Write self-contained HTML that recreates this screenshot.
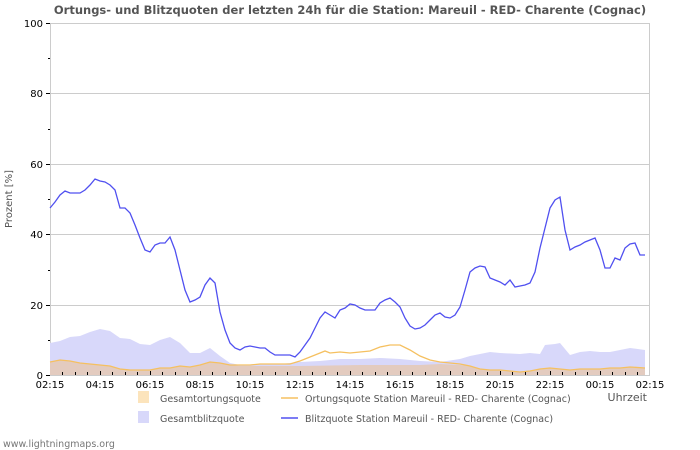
<!DOCTYPE html><html><head><style>body{margin:0;background:#fff}svg{display:block;font-family:"DejaVu Sans","Liberation Sans",sans-serif}</style></head><body>
<svg width="700" height="450" viewBox="0 0 700 450">
<text x="350" y="14" text-anchor="middle" font-size="11.5" font-weight="bold" fill="#555">Ortungs- und Blitzquoten der letzten 24h für die Station: Mareuil - RED- Charente (Cognac)</text>
<g stroke="#ccc" stroke-width="1">
<line x1="50" y1="23.5" x2="650" y2="23.5"/><line x1="50" y1="93.5" x2="650" y2="93.5"/><line x1="50" y1="164.5" x2="650" y2="164.5"/><line x1="50" y1="234.5" x2="650" y2="234.5"/><line x1="50" y1="305.5" x2="650" y2="305.5"/>
<line x1="50.5" y1="23" x2="50.5" y2="375"/><line x1="649.5" y1="23" x2="649.5" y2="375"/><line x1="50" y1="375.5" x2="650" y2="375.5"/>
</g>
<polygon fill="#d8d8fa" points="50,343 60,341 70,337 80,336 90,332 100,329 110,331 120,338 130,339 140,344 150,345 160,340 170,337 180,343 190,353 200,353 210,348 220,356 230,363 240,365 260,364 280,364 300,362 320,361 340,359 360,359 380,358 400,359 420,361 440,362 460,359 470,356 490,352 500,353 520,354 530,353 540,354 545,345 555,344 560,343 570,355 580,352 590,351 600,352 610,352 620,350 630,348 645,350 645,375 50,375"/>
<polygon fill="#e6c8b0" opacity="0.8" points="50,362 60,360 70,361 80,363 90,364 100,365 110,366 120,369 130,370 140,370 150,370 160,368 170,368 180,366 190,367 200,365 210,362 220,363 230,365 240,366 300,366 360,365 420,365 440,364 460,365 470,366 480,369 490,370 500,370 510,371 520,372 530,371 540,369 550,368 560,369 570,370 580,369 590,369 600,369 610,368 620,368 630,367 645,368 645,375 50,375"/>
<polyline fill="none" stroke="#f5c060" stroke-width="1.3" points="50,362 60,360 70,361 80,363 90,364 100,365 110,366 120,369 130,370 140,370 150,370 160,368 170,368 180,366 190,367 200,365 210,362 220,363 230,365 240,365 250,365 260,364 270,364 280,364 290,364 300,361 310,357 320,353 325,351 330,353 340,352 350,353 360,352 370,351 380,347 390,345 400,345 410,350 420,356 430,360 440,362 450,363 460,364 470,366 480,369 490,370 500,370 510,371 520,372 530,371 540,369 550,368 560,369 570,370 580,369 590,369 600,369 610,368 620,368 630,367 645,368"/>
<polyline fill="none" stroke="#5050f0" stroke-width="1.3" points="50,208 55,202 60,195 65,191 70,193 75,193 80,193 85,190 90,185 95,179 100,181 105,182 110,185 115,190 120,208 125,208 130,213 135,225 140,238 145,250 150,252 155,245 160,243 165,243 170,237 175,250 180,270 185,290 190,302 195,300 200,297 205,285 210,278 215,283 220,312 225,330 230,343 235,348 240,350 245,347 250,346 255,347 260,348 265,348 270,352 275,355 280,355 285,355 290,355 295,357 300,352 305,345 310,338 315,328 320,318 325,312 330,315 335,318 340,310 345,308 350,304 355,305 360,308 365,310 370,310 375,310 380,303 385,300 390,298 395,302 400,307 405,318 410,326 415,329 420,328 425,325 430,320 435,315 440,313 445,317 450,318 455,315 460,307 465,290 470,272 475,268 480,266 485,267 490,278 495,280 500,282 505,285 510,280 515,287 520,286 525,285 530,283 535,272 540,248 545,228 550,208 555,200 560,197 565,230 570,250 575,247 580,245 585,242 590,240 595,238 600,250 605,268 610,268 615,258 620,260 625,248 630,244 635,243 640,255 645,255"/>
<g stroke="#000" stroke-width="1">
<line x1="46" y1="23.5" x2="50" y2="23.5"/><line x1="46" y1="93.5" x2="50" y2="93.5"/><line x1="46" y1="164.5" x2="50" y2="164.5"/><line x1="46" y1="234.5" x2="50" y2="234.5"/><line x1="46" y1="305.5" x2="50" y2="305.5"/><line x1="46" y1="375.5" x2="50" y2="375.5"/>
<line x1="48" y1="58.5" x2="50" y2="58.5"/><line x1="48" y1="129.5" x2="50" y2="129.5"/><line x1="48" y1="199.5" x2="50" y2="199.5"/><line x1="48" y1="270.5" x2="50" y2="270.5"/><line x1="48" y1="340.5" x2="50" y2="340.5"/>
</g>
<g stroke="#000" stroke-width="1" id="xt"></g>
<g font-size="10" fill="#000" text-anchor="end">
<text x="43" y="27">100</text><text x="43" y="97">80</text><text x="43" y="168">60</text><text x="43" y="238">40</text><text x="43" y="309">20</text><text x="43" y="379">0</text>
</g>
<g font-size="10" fill="#000" text-anchor="middle">
<text x="50" y="388">02:15</text><text x="100" y="388">04:15</text><text x="150" y="388">06:15</text><text x="200" y="388">08:15</text><text x="250" y="388">10:15</text><text x="300" y="388">12:15</text><text x="350" y="388">14:15</text><text x="400" y="388">16:15</text><text x="450" y="388">18:15</text><text x="500" y="388">20:15</text><text x="550" y="388">22:15</text><text x="600" y="388">00:15</text><text x="650" y="388">02:15</text>
</g>
<text x="12" y="199" font-size="10" fill="#555" text-anchor="middle" transform="rotate(-90 12 199)">Prozent   [%]</text>
<text x="647" y="401" font-size="11" fill="#555" text-anchor="end">Uhrzeit</text>
<rect x="138" y="391" width="11" height="12" fill="#fce4bc"/>
<rect x="138" y="411" width="11" height="12" fill="#d8d8fa"/>
<line x1="281" y1="398" x2="298" y2="398" stroke="#f5c060" stroke-width="1.5"/>
<line x1="281" y1="418" x2="298" y2="418" stroke="#5050f0" stroke-width="1.5"/>
<g font-size="9.5" fill="#555">
<text x="160" y="402">Gesamtortungsquote</text><text x="160" y="422">Gesamtblitzquote</text>
<text x="305" y="402">Ortungsquote Station Mareuil - RED- Charente (Cognac)</text><text x="305" y="422">Blitzquote Station Mareuil - RED- Charente (Cognac)</text>
<text x="3" y="447" fill="#777">www.lightningmaps.org</text>
</g>
<g stroke="#000" stroke-width="1">
<line x1="62.5" y1="372" x2="62.5" y2="375"/><line x1="75.5" y1="372" x2="75.5" y2="375"/><line x1="87.5" y1="372" x2="87.5" y2="375"/><line x1="100.5" y1="371" x2="100.5" y2="375"/><line x1="112.5" y1="372" x2="112.5" y2="375"/><line x1="125.5" y1="372" x2="125.5" y2="375"/><line x1="137.5" y1="372" x2="137.5" y2="375"/><line x1="150.5" y1="371" x2="150.5" y2="375"/><line x1="162.5" y1="372" x2="162.5" y2="375"/><line x1="175.5" y1="372" x2="175.5" y2="375"/><line x1="187.5" y1="372" x2="187.5" y2="375"/><line x1="200.5" y1="371" x2="200.5" y2="375"/><line x1="212.5" y1="372" x2="212.5" y2="375"/><line x1="225.5" y1="372" x2="225.5" y2="375"/><line x1="237.5" y1="372" x2="237.5" y2="375"/><line x1="250.5" y1="371" x2="250.5" y2="375"/><line x1="262.5" y1="372" x2="262.5" y2="375"/><line x1="275.5" y1="372" x2="275.5" y2="375"/><line x1="287.5" y1="372" x2="287.5" y2="375"/><line x1="300.5" y1="371" x2="300.5" y2="375"/><line x1="312.5" y1="372" x2="312.5" y2="375"/><line x1="325.5" y1="372" x2="325.5" y2="375"/><line x1="337.5" y1="372" x2="337.5" y2="375"/><line x1="350.5" y1="371" x2="350.5" y2="375"/><line x1="362.5" y1="372" x2="362.5" y2="375"/><line x1="375.5" y1="372" x2="375.5" y2="375"/><line x1="387.5" y1="372" x2="387.5" y2="375"/><line x1="400.5" y1="371" x2="400.5" y2="375"/><line x1="412.5" y1="372" x2="412.5" y2="375"/><line x1="425.5" y1="372" x2="425.5" y2="375"/><line x1="437.5" y1="372" x2="437.5" y2="375"/><line x1="450.5" y1="371" x2="450.5" y2="375"/><line x1="462.5" y1="372" x2="462.5" y2="375"/><line x1="475.5" y1="372" x2="475.5" y2="375"/><line x1="487.5" y1="372" x2="487.5" y2="375"/><line x1="500.5" y1="371" x2="500.5" y2="375"/><line x1="512.5" y1="372" x2="512.5" y2="375"/><line x1="525.5" y1="372" x2="525.5" y2="375"/><line x1="537.5" y1="372" x2="537.5" y2="375"/><line x1="550.5" y1="371" x2="550.5" y2="375"/><line x1="562.5" y1="372" x2="562.5" y2="375"/><line x1="575.5" y1="372" x2="575.5" y2="375"/><line x1="587.5" y1="372" x2="587.5" y2="375"/><line x1="600.5" y1="371" x2="600.5" y2="375"/><line x1="612.5" y1="372" x2="612.5" y2="375"/><line x1="625.5" y1="372" x2="625.5" y2="375"/><line x1="637.5" y1="372" x2="637.5" y2="375"/>
</g>
</svg>
</body></html>
